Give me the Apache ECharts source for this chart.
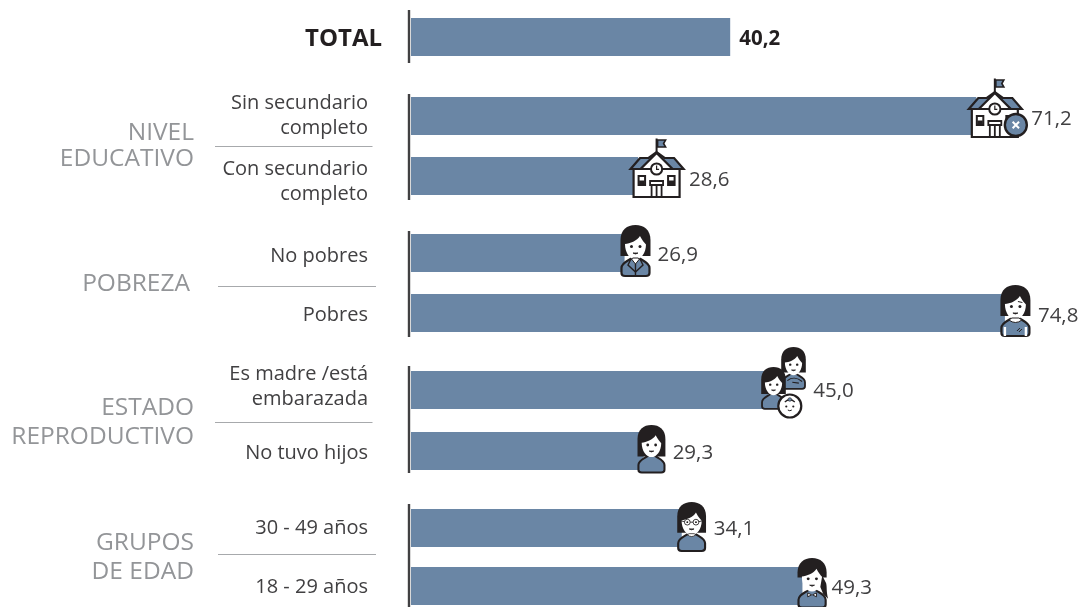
<!DOCTYPE html>
<html><head><meta charset="utf-8">
<style>html,body{margin:0;padding:0;background:#fff}#c{width:1081px;height:607px}</style>
<script src="https://cdn.jsdelivr.net/npm/echarts@6/dist/echarts.min.js"></script>
</head><body><div id="c"></div>
<script>
// ---- data ----
const totalCategories = ['TOTAL'];
const totalValues = [40.2];
const educationCategories = ['Sin secundario\ncompleto', 'Con secundario\ncompleto'];
const educationValues = [71.2, 28.6];
const povertyCategories = ['No pobres', 'Pobres'];
const povertyValues = [26.9, 74.8];
const reproductiveCategories = ['Es madre /está\nembarazada', 'No tuvo hijos'];
const reproductiveValues = [45.0, 29.3];
const ageCategories = ['30 - 49 años', '18 - 29 años'];
const ageValues = [34.1, 49.3];
const groupNames = ['NIVEL\nEDUCATIVO', 'POBREZA', 'ESTADO\nREPRODUCTIVO', 'GRUPOS\nDE EDAD'];

// ---- layout / style ----
const FONT = '"Open Sans"';
const BAR = '#6a86a5', INK = '#231f20', TEXT = '#414042', GREY = '#939598', RULE = '#a7a9ac';
const groups = [
  { cats: totalCategories, vals: totalValues, top: 7, h: 60, margin: 29, icons: [null], gaps: [[9, 2]], shift: [2], line: [10, 63] },
  { cats: educationCategories, vals: educationValues, top: 86, h: 120, margin: 43, icons: ['schoolX', 'school'], gaps: [[55, 3], [51, 4]], shift: [0, 6], line: [94, 200] },
  { cats: povertyCategories, vals: povertyValues, top: 223, h: 120, margin: 43, icons: ['suit', 'poor'], gaps: [[33, 2], [33, 3]], shift: [3.5, 2.5], line: [231, 337] },
  { cats: reproductiveCategories, vals: reproductiveValues, top: 359.5, h: 122, margin: 43, icons: ['mother', 'plain'], gaps: [[45, 1], [29, 2]], shift: [-3.5, 2], line: [366, 473] },
  { cats: ageCategories, vals: ageValues, top: 499, h: 116, margin: 43, icons: ['glasses', 'young'], gaps: [[32, 1], [29, 2]], shift: [0.5, 1.5], line: [504, 607] }
];
const P = (d, fill, stroke, lw) => ({ type: 'path', shape: { pathData: d }, style: { fill: fill || 'none', stroke: stroke || 'none', lineWidth: lw || 0 } });
const C = (cx, cy, r, fill, stroke, lw) => ({ type: 'circle', shape: { cx, cy, r }, style: { fill: fill || 'none', stroke: stroke || 'none', lineWidth: lw || 0 } });
const G = (x, y, s, children) => ({ type: 'group', x, y, scaleX: s, scaleY: s, children });

function school(badge) {
  const kids = [
    P('M26 15L26 0.5', null, INK, 2),
    P('M27 2L35 2L33 5.5L35 9L27 9Z', BAR, INK, 1.6),
    P('M3 29L49 29L49 59L3 59Z', '#fff', INK, 2.2),
    P('M9.5 20L0 31L53 31L43.5 20L34 20L26 14L18 20Z', BAR, INK, 2.2),
    P('M26 15L10 31L42 31Z', '#fff', INK, 2.2),
    C(26, 31, 5.6, '#fff', INK, 2),
    P('M26 27.5L26 31.3L28.5 31.3', null, INK, 1.2),
    P('M8 38L14.5 38L14.5 47L8 47Z', '#fff', INK, 2),
    P('M8.5 42.5L14 42.5L14 46.5L8.5 46.5Z', INK),
    P('M37.5 38L44 38L44 47L37.5 47Z', '#fff', INK, 2),
    P('M38 42.5L43.5 42.5L43.5 46.5L38 46.5Z', INK),
    P('M21 59L21 47L31 47L31 59M19.5 43L32.5 43L32.5 47L19.5 47ZM26 47L26 59', null, INK, 1.8)
  ];
  if (badge) {
    kids.push(C(47, 47, 11, BAR, INK, 2.4));
    kids.push(P('M43.8 43.8L50.2 50.2M50.2 43.8L43.8 50.2', null, '#fff', 2));
  }
  return G(-7.5, -38, 1, kids);
}
function head(o) {
  o = o || {};
  const kids = [];
  const hb = o.hairBottom || 31;
  kids.push(P('M1.5 48L1.5 43C1.5 37.5 8 36 12 33L19 33C23 36 29.5 37.5 29.5 43L29.5 48C29.5 50 28 51 26 51L5 51C2.5 51 1.5 50 1.5 48Z', BAR, INK, 2.2));
  kids.push(P('M0.5 ' + hb + 'L0.5 15C0.5 5 7 0 15.5 0C24 0 30.5 5 30.5 15L30.5 ' + hb + 'Z', INK));
  kids.push(P('M5 19C10 18.5 17 16 20 11C22 15 24.5 18 26 19.5C26 28 21 34.5 15.5 34.5C10 34.5 5 28 5 19Z', '#fff'));
  kids.push(C(11.5, 21.5, 1.5, INK), C(20, 21.5, 1.5, INK));
  kids.push(P('M13 28Q15.5 30 18 28Z', INK, INK, 0.8));
  return kids;
}
function woman(kind) {
  if (kind === 'suit') {
    const k = head();
    k.push(P('M11.5 34L15.5 39L19.5 34L18 33L13 33Z', '#fff', INK, 1));
    k.push(P('M11 34L8 40L15.5 47L23 40L20 34', null, INK, 1.4));
    k.push(P('M15.5 39L15.5 50', null, INK, 1.4));
    return G(-4.6, -28, 1, k);
  }
  if (kind === 'poor') {
    const k = head();
    k.push(P('M9 35Q15.5 40 22 35L19 33L12 33Z', '#fff', INK, 1));
    k.push(P('M5 42L5 51M26 42L26 51', null, '#fff', 2.4));
    k.push(P('M17 46L20 43M19 47L22 44', null, INK, 1));
    k.push(P('M8.5 17.5L13 16.5M18 16.5L22.5 17.5', null, INK, 1));
    return G(-5, -28, 1, k);
  }
  if (kind === 'plain') {
    return G(-6.6, -26, 0.93, head({ hairBottom: 34 }));
  }
  if (kind === 'glasses') {
    const k = head({ hairBottom: 32 });
    k.push(C(11, 21, 3, '#fff', INK, 0.9), C(20, 21, 3, '#fff', INK, 0.9), C(11, 21, 1, INK), C(20, 21, 1, INK));
    k.push(P('M14 21L17 21M23 20.5L27 19.5M8 20.5L4 19.5', null, INK, 0.9));
    k.push(P('M11 34Q15.5 38 20 34L18 33L13 33Z', '#fff', INK, 0.8));
    return G(-5, -26, 0.96, k);
  }
  if (kind === 'young') {
    const k = head({ hairBottom: 20 });
    k.push(P('M26 18L30 26C31 30 30 34 32 42L27 37L24 30Z', INK));
    k.push(P('M11 36L15 38L11 40ZM20 36L16 38L20 40Z', '#fff', INK, 1));
    return G(-5.4, -28, 0.97, k);
  }
  if (kind === 'mother') {
    const back = G(12.5, -43, 0.82, head({ hairBottom: 31 }).concat([
      P('M8 41C13 37 20 37 26 42M14 43L22 44', null, INK, 1.4)
    ]));
    const front = G(-7.5, -23, 0.82, head({ hairBottom: 33 }));
    const baby = G(21.5, 16, 1, [
      C(0, 0, 11.5, '#fff', INK, 2.2),
      P('M-5 -4Q0 -8.5 5 -4', null, INK, 1.2),
      C(-3.5, 0.5, 1.1, INK), C(3.5, 0.5, 1.1, INK),
      P('M-2 4Q0 5.5 2 4', null, INK, 1),
      C(0, -6.5, 1.8, BAR, INK, 0.6)
    ]);
    return { type: 'group', children: [back, front, baby] };
  }
}
const drawIcon = name => (name === 'school' ? school(false) : name === 'schoolX' ? school(true) : woman(name));

// Each category label is rich text; a thin blank line above or below it nudges it vertically.
function richFor(g, i) {
  const base = i === 0
    ? { fontFamily: FONT, fontSize: 24, fontWeight: 700, color: INK, lineHeight: 28 }
    : { fontFamily: FONT, fontSize: 20, color: TEXT, lineHeight: 25 };
  const rich = { n: base };
  g.shift.forEach((s, j) => {
    if (s) rich['g' + j] = { fontFamily: FONT, fontSize: 1, lineHeight: 2 * Math.abs(s) };
  });
  return rich;
}
function richText(g, text) {
  const j = g.cats.indexOf(text), s = g.shift[j];
  const body = text.split('\n').map(l => '{n|' + l + '}');
  if (s > 0) body.unshift('{g' + j + '| }');
  if (s < 0) body.push('{g' + j + '| }');
  return body.join('\n');
}

const grid = [], xAxis = [], yAxis = [], series = [];
groups.forEach((g, i) => {
  grid.push({ left: 411, width: 635.2, top: g.top, height: g.h, outerBoundsMode: 'none' });
  xAxis.push({ type: 'value', gridIndex: i, min: 0, max: 80, show: false });
  yAxis.push({
    type: 'category', gridIndex: i, inverse: true, data: g.cats,
    axisLine: { show: false }, axisTick: { show: false }, splitLine: { show: false },
    axisLabel: { margin: g.margin, align: 'right', formatter: t => richText(g, t), rich: richFor(g, i) }
  });
  series.push({
    type: 'bar', xAxisIndex: i, yAxisIndex: i, barWidth: 38, z: 2, animation: false,
    itemStyle: { color: BAR },
    data: g.vals.map((v, j) => ({
      value: v,
      label: {
        show: true, position: 'right', distance: 0, offset: g.gaps[j],
        fontFamily: FONT, fontSize: 20.5, color: i === 0 ? INK : TEXT, fontWeight: i === 0 ? 700 : 400,
        formatter: p => p.value.toFixed(1).replace('.', ',')
      }
    }))
  });
  if (g.icons.some(Boolean)) {
    series.push({
      type: 'custom', xAxisIndex: i, yAxisIndex: i, z: 3, animation: false, clip: false,
      encode: { x: 0, y: 1 },
      data: g.vals.map((v, j) => [v, j]),
      renderItem: (params, api) => {
        const pt = api.coord([api.value(0), api.value(1)]);
        return { type: 'group', x: pt[0], y: pt[1], children: [drawIcon(g.icons[params.dataIndex])] };
      }
    });
  }
});

const line = (x1, y1, x2, y2, stroke, w) => ({ type: 'line', shape: { x1, y1, x2, y2 }, style: { stroke, lineWidth: w }, silent: true, z: 5 });
const label = (text, right, y, lh) => ({
  type: 'text', x: right, y, z: 5, silent: true,
  style: { text, fill: GREY, font: '400 24.5px ' + FONT, align: 'right', verticalAlign: 'middle', lineHeight: lh }
});
const graphic = groups.map(g => line(409, g.line[0], 409, g.line[1], TEXT, 2.4)).concat([
  line(215, 146.5, 372.5, 146.5, RULE, 1),
  line(218, 286.5, 376, 286.5, RULE, 1),
  line(215, 422.5, 372.5, 422.5, RULE, 1),
  line(218, 554.5, 376, 554.5, RULE, 1),
  label(groupNames[0], 194, 146, 26),
  label(groupNames[1], 190, 284, 26),
  label(groupNames[2], 194, 423, 29),
  label(groupNames[3], 194, 558, 29)
]);

const chart = echarts.init(document.getElementById('c'), null, { renderer: 'canvas' });
chart.setOption({ backgroundColor: '#fff', animation: false, tooltip: { show: false }, grid, xAxis, yAxis, series, graphic });
</script></body></html>
